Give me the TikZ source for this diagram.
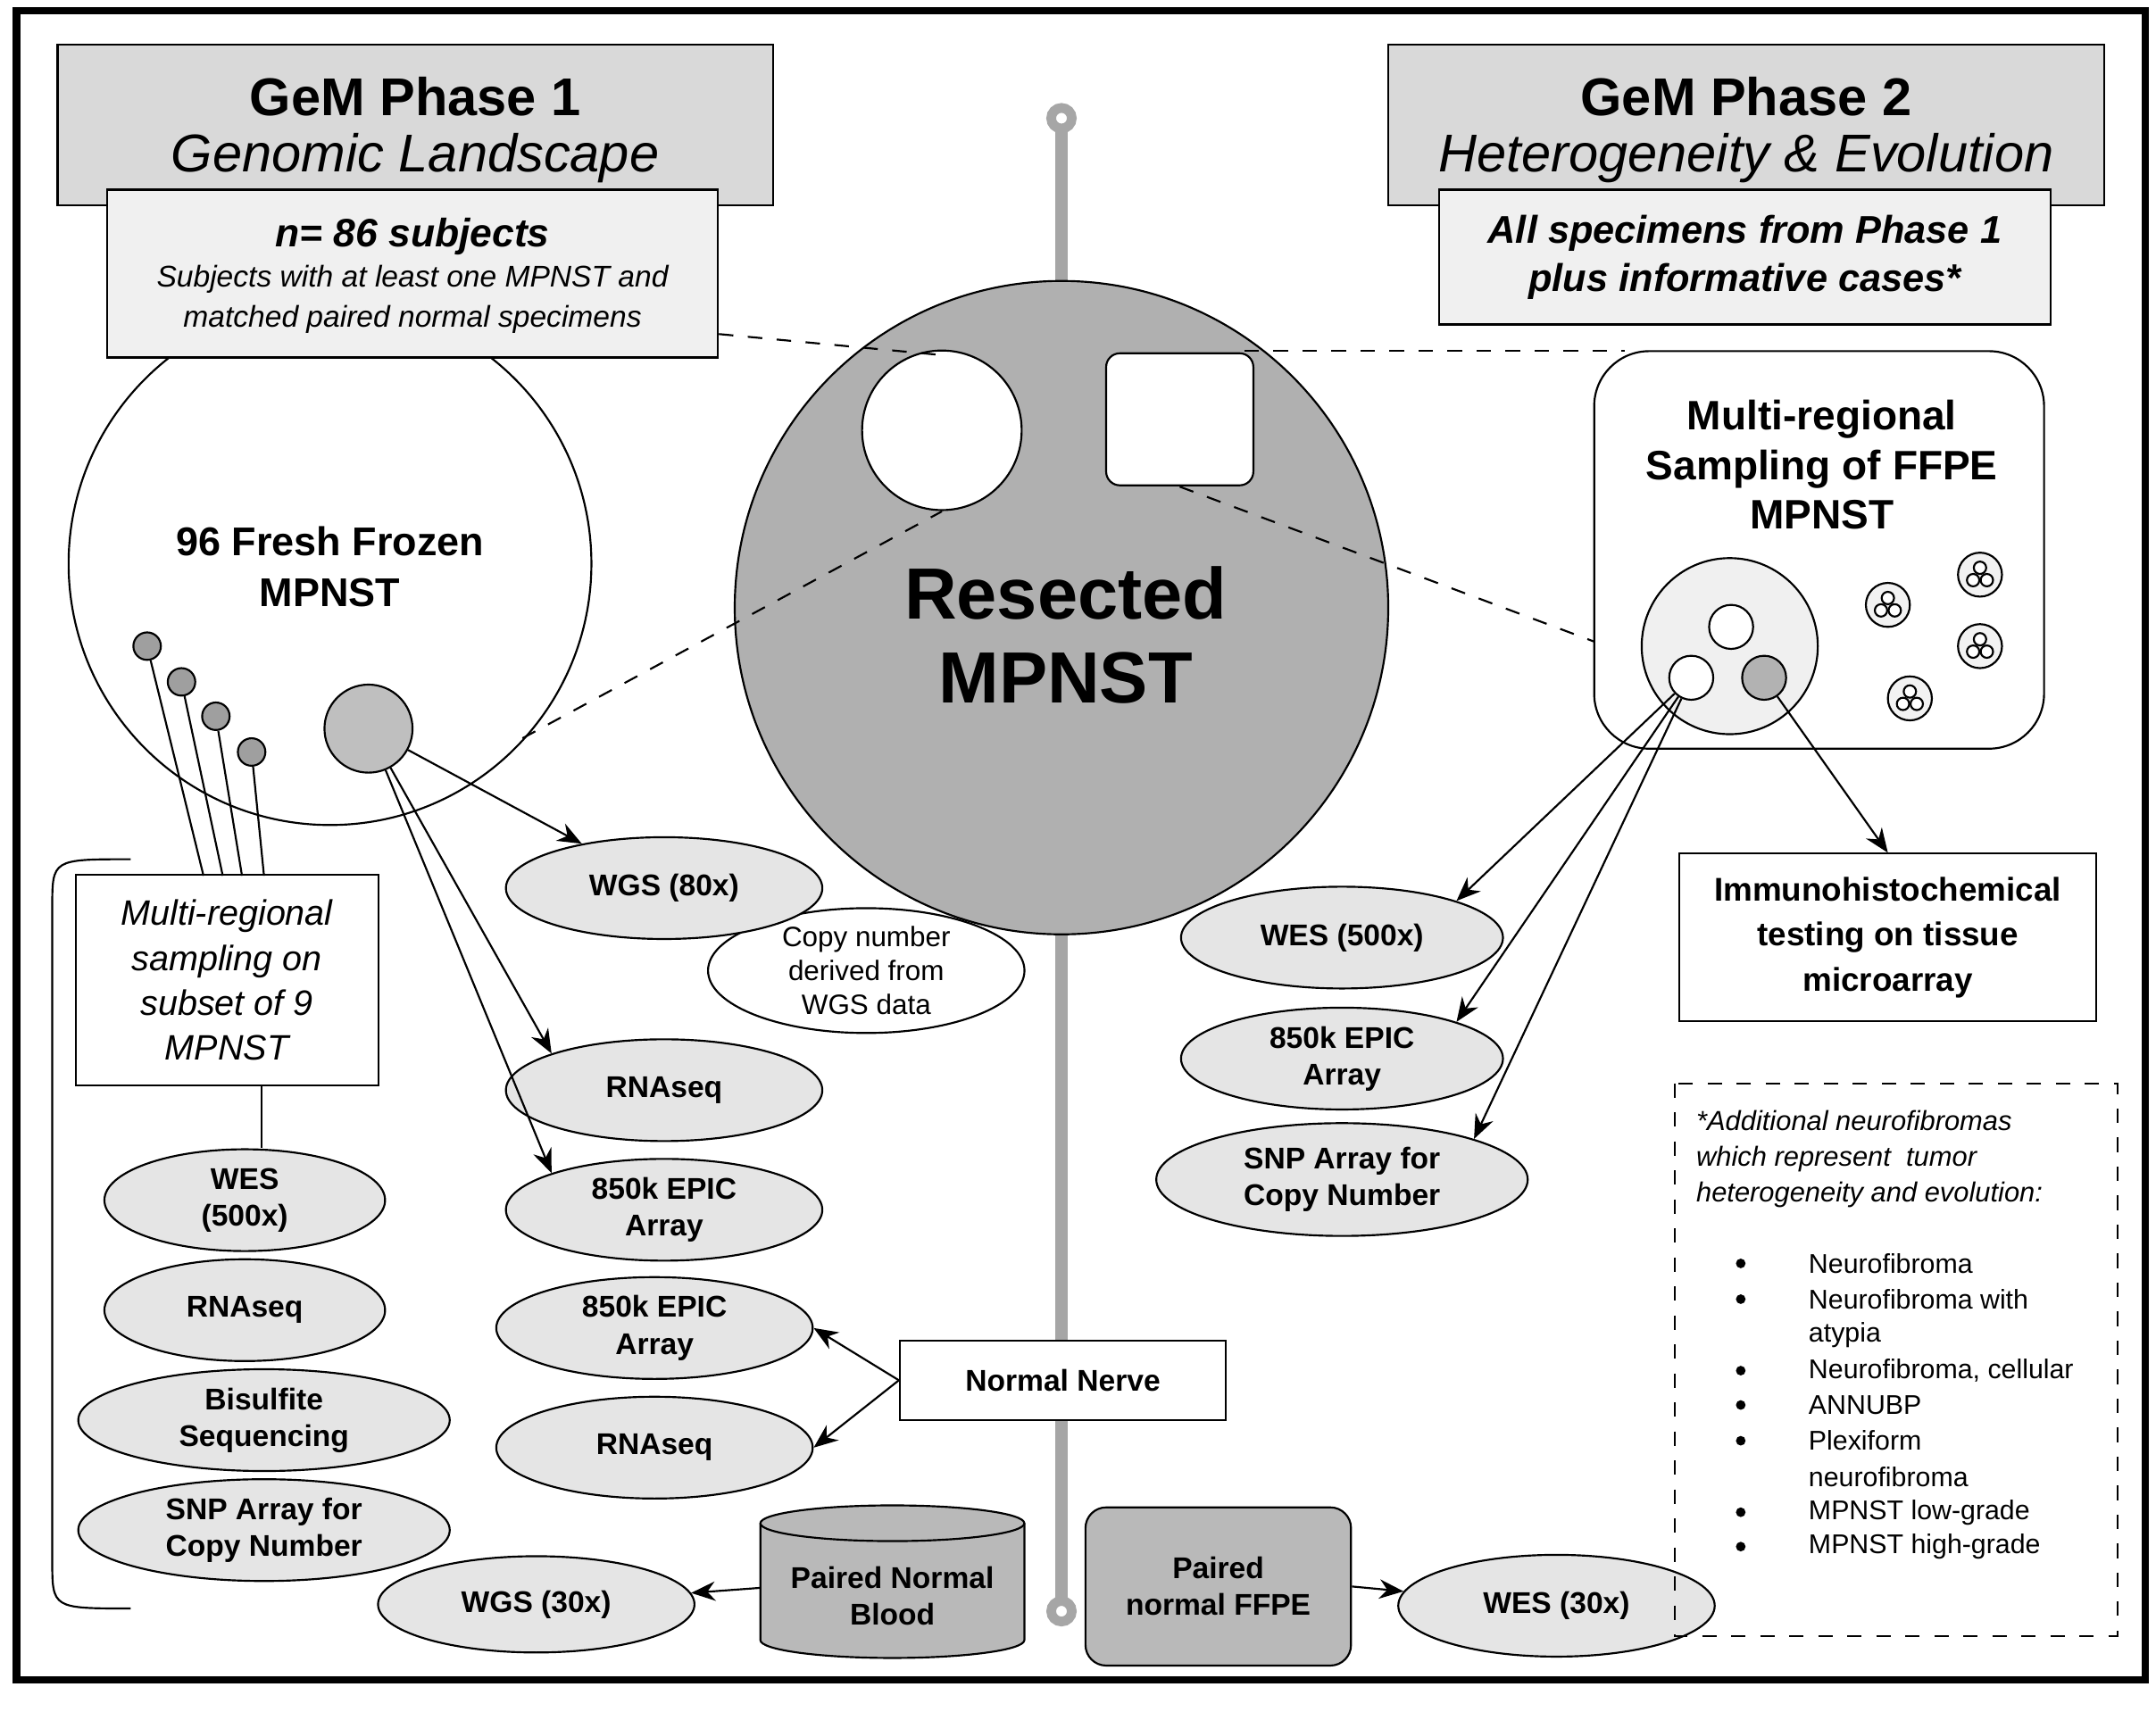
\documentclass[tikz,border=0pt]{standalone}
\usepackage{fontspec}
\setmainfont{Liberation Sans}
\usetikzlibrary{shapes.geometric,arrows.meta}
\begin{document}
\begin{tikzpicture}[x=0.01cm,y=-0.01cm,
  lab/.style={font=\fontsize{6.2}{7.6}\selectfont\bfseries,align=center},
  ell/.style={ellipse,draw,fill=gray!20,lab,inner sep=0pt},
  arr/.style={-{Stealth[length=5pt,width=4pt]},thin},
  dsh/.style={dashed,thin},
  hdr/.style={draw,fill=gray!30,minimum width=5.2cm,minimum height=1.17cm},
  sub/.style={draw,fill=gray!12,align=center},
  big/.style={font=\fontsize{11}{13}\selectfont\bfseries},
  bigi/.style={font=\fontsize{11}{13}\selectfont\itshape},
  smi/.style={font=\fontsize{6.2}{7.5}\selectfont\itshape},
  dot/.style={circle,draw,fill=gray!75,minimum size=0.2cm,inner sep=0pt},
  bul/.style={font=\fontsize{5.6}{6.5}\selectfont,anchor=west}]
\useasboundingbox (0,0) rectangle (1568,1245);
\draw[line width=1.5pt] (12,8) rectangle (1560,1222);
% timeline
\draw[gray!70,line width=2.5pt] (772,86) -- (772,1172);
\node[circle,draw=gray!70,line width=2pt,fill=white,minimum size=0.15cm,inner sep=0pt] (t1) at (772,86) {};
\node[circle,draw=gray!70,line width=2pt,fill=white,minimum size=0.15cm,inner sep=0pt] (t2) at (772,1172) {};
% big left circle
\node[circle,draw,fill=white,minimum size=3.8cm] (ff) at (240,410) {};
\node[lab,font=\fontsize{8.3}{10.5}\selectfont\bfseries] at (240,412) {96 Fresh Frozen\\MPNST};
% headers
\node[hdr] (h1) at (302,91) {};
\node[big] at (302,70) {GeM Phase 1};
\node[bigi] at (302,115) {Genomic Landscape};
\node[sub,minimum width=4.44cm,minimum height=1.22cm] (n86) at (300,199) {};
\node[font=\fontsize{8.2}{10}\selectfont\bfseries\itshape] at (300,172) {n= 86 subjects};
\node[smi] at (300,203) {Subjects with at least one MPNST and};
\node[smi] at (300,232) {matched paired normal specimens};
\node[hdr] (h2) at (1270,91) {};
\node[big] at (1270,70) {GeM Phase 2};
\node[bigi] at (1270,115) {Heterogeneity \& Evolution};
\node[sub,minimum width=4.44cm,minimum height=0.98cm,font=\fontsize{8}{10}\selectfont\bfseries\itshape] (allsp) at (1269,187) {All specimens from Phase 1\\plus informative cases*};
% resected
\node[circle,draw,fill=gray!62,minimum size=4.75cm] (res) at (772,442) {};
\node[circle,draw,fill=white,minimum size=1.16cm] (wc) at (685,313) {};
\node[draw,fill=white,rounded corners=0.1cm,minimum width=1.07cm,minimum height=0.96cm] (ws) at (858,305) {};
\node[font=\fontsize{15}{17.5}\selectfont\bfseries,align=center] at (775,462) {Resected\\MPNST};
% dashed
\draw[dsh] (n86.east |- 0,243) -- (682,258);
\draw[dsh] (380,537) -- (685,372);
\draw[dsh] (905,255) -- (1182,255);
\draw[dsh] (858,354) -- (1195,480);
% small dots
\node[dot] (d1) at (107,470) {};
\node[dot] (d2) at (132,496) {};
\node[dot] (d3) at (157,521) {};
\node[dot] (d4) at (183,547) {};
\node[circle,draw,fill=gray!50,minimum size=0.64cm] (gc) at (268,530) {};
% multi-regional box
\node[draw,fill=white,minimum width=2.2cm,minimum height=1.53cm,align=center,font=\fontsize{7.3}{9.3}\selectfont\itshape] (mr) at (165,713) {Multi-regional\\sampling on\\subset of 9\\MPNST};
\draw (d1) -- (148,637); \draw (d2) -- (162,637); \draw (d3) -- (176,637); \draw (d4) -- (192,637);
% bracket
\draw (95,625) .. controls (38,625) .. (38,660) -- (38,1135) .. controls (38,1170) .. (95,1170);
% left ellipses
\node[ell,minimum width=2.04cm,minimum height=0.74cm] (wes1) at (178,873) {WES\\(500x)};
\draw (mr.south -| 190,0) -- (wes1.north -| 190,0);
\node[ell,minimum width=2.04cm,minimum height=0.74cm] (rna1) at (178,953) {RNAseq};
\node[ell,minimum width=2.7cm,minimum height=0.74cm] (bis) at (192,1033) {Bisulfite\\Sequencing};
\node[ell,minimum width=2.7cm,minimum height=0.74cm] (snp1) at (192,1113) {SNP Array for\\Copy Number};
% middle ellipses
\node[ell,fill=white,minimum width=2.3cm,minimum height=0.9cm,font=\fontsize{5.8}{7}\selectfont] (cn) at (630,706) {Copy number\\derived from\\WGS data};
\node[ell,minimum width=2.3cm,minimum height=0.74cm] (wgs80) at (483,646) {WGS (80x)};
\node[ell,minimum width=2.3cm,minimum height=0.74cm] (rna2) at (483,793) {RNAseq};
\node[ell,minimum width=2.3cm,minimum height=0.74cm] (epic2) at (483,880) {850k EPIC\\Array};
\node[ell,minimum width=2.3cm,minimum height=0.74cm] (epic3) at (476,966) {850k EPIC\\Array};
\node[ell,minimum width=2.3cm,minimum height=0.74cm] (rna3) at (476,1053) {RNAseq};
\node[ell,minimum width=2.3cm,minimum height=0.7cm] (wgs30) at (390,1167) {WGS (30x)};
\draw[arr] (gc) -- (wgs80);
\draw[arr] (gc) -- (rna2.north west);
\draw[arr] (gc) -- (epic2.north west);
% normal nerve
\node[draw,fill=white,minimum width=2.37cm,minimum height=0.58cm,lab] (nn) at (773,1004) {Normal Nerve};
\draw[arr] (nn.west) -- (epic3.east);
\draw[arr] (nn.west) -- (rna3.east);
% cylinder
\draw[fill=gray!55] (553,1108) -- (553,1193) arc[start angle=180,end angle=0,x radius=96,y radius=13] -- (745,1108);
\draw[fill=gray!55] (649,1108) ellipse[x radius=96,y radius=13];
\node[lab] (pnb) at (649,1161) {Paired Normal\\Blood};
\coordinate (cyl) at (553,1155);
\draw[arr] (cyl) -- (wgs30);
% paired FFPE
\node[draw,fill=gray!55,rounded corners=0.15cm,minimum width=1.93cm,minimum height=1.15cm,lab] (pff) at (886,1154) {Paired\\normal FFPE};
\node[ell,minimum width=2.3cm,minimum height=0.74cm] (wes30) at (1132,1168) {WES (30x)};
\draw[arr] (pff.east) -- (wes30);
% right box
\node[draw,fill=white,rounded corners=0.4cm,minimum width=3.27cm,minimum height=2.89cm] (rb) at (1323,400) {};
\node[lab,font=\fontsize{8.5}{10.2}\selectfont\bfseries] at (1325,338) {Multi-regional\\Sampling of FFPE\\MPNST};
\node[circle,draw,fill=gray!12,minimum size=1.28cm] (bc) at (1258,470) {};
\node[circle,draw,fill=white,minimum size=0.32cm,inner sep=0pt] (c1) at (1259,456) {};
\node[circle,draw,fill=white,minimum size=0.32cm,inner sep=0pt] (c2) at (1230,493) {};
\node[circle,draw,fill=gray!60,minimum size=0.32cm,inner sep=0pt] (c3) at (1283,493) {};
\foreach \p/\q in {1373/440,1440/418,1440/470,1389/508}{
  \draw[fill=gray!10] (\p,\q) circle (16);
  \draw[fill=white] (\p,\q-5) circle (4.5);
  \draw[fill=white] (\p-5,\q+4) circle (4.5);
  \draw[fill=white] (\p+5,\q+4) circle (4.5);
}
\node[ell,minimum width=2.34cm,minimum height=0.74cm] (wes2) at (976,682) {WES (500x)};
\node[ell,minimum width=2.34cm,minimum height=0.74cm] (epic4) at (976,770) {850k EPIC\\Array};
\node[ell,minimum width=2.7cm,minimum height=0.82cm] (snp2) at (976,858) {SNP Array for\\Copy Number};
\draw[arr] (c2) -- (wes2.north east);
\draw[arr] (c2) -- (epic4.north east);
\draw[arr] (c2) -- (snp2.north east);
\node[draw,fill=white,minimum width=3.03cm,minimum height=1.22cm,lab,font=\fontsize{6.8}{9.4}\selectfont\bfseries] (ihc) at (1373,682) {Immunohistochemical\\testing on tissue\\microarray};
\draw[arr] (c3) -- (ihc.north);
% dashed legend
\draw[dsh] (1218,788) rectangle (1540,1190);
\node[anchor=north west,align=left,font=\fontsize{5.7}{7.4}\selectfont\itshape,inner sep=0pt] (leg) at (1233,807) {*Additional neurofibromas\\which represent\ \ tumor\\heterogeneity and evolution:};
\foreach \yy in {919,945,997,1022,1048,1100,1125}{\fill (1266,\yy) circle (3.5);}
\node[bul] at (1303,919) {Neurofibroma};
\node[bul] at (1303,945) {Neurofibroma with};
\node[bul] at (1303,971) {atypia};
\node[bul] at (1303,997) {Neurofibroma, cellular};
\node[bul] at (1303,1022) {ANNUBP};
\node[bul] at (1303,1048) {Plexiform};
\node[bul] at (1303,1074) {neurofibroma};
\node[bul] at (1303,1100) {MPNST low-grade};
\node[bul] at (1303,1125) {MPNST high-grade};
\end{tikzpicture}
\end{document}
